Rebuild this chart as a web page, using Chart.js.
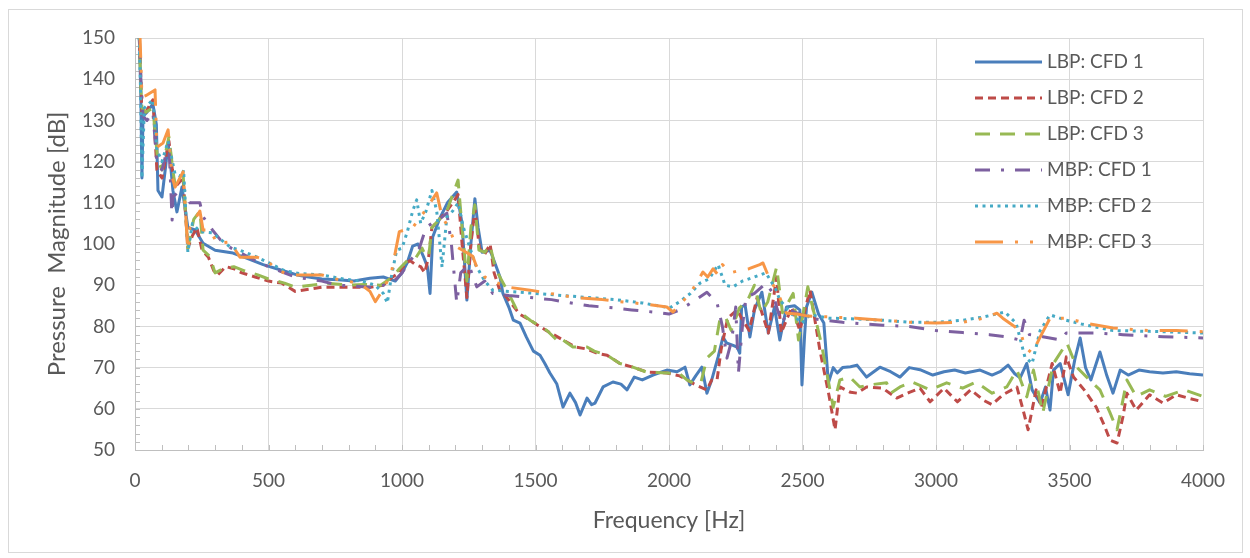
<!DOCTYPE html>
<html>
<head>
<meta charset="utf-8">
<script src="https://cdn.jsdelivr.net/npm/chart.js@4.4.0/dist/chart.umd.min.js"></script>
<style>
  html, body { margin: 0; padding: 0; background: #fff; }
  #wrap { width: 1250px; height: 558px; }
</style>
</head>
<body>
<div id="wrap"><canvas id="chart" width="1250" height="558"></canvas></div>
<script>
// [frequency Hz, magnitude dB]
const lbp1 = [[15,155],[22,135],[26,116],[30,131],[45,132],[67,134],[80,129],[86,113],[101,111.4],[115,119],[124,124.5],[135,118],[142,113],[157,107.8],[176,113.8],[198,104],[225,103.4],[255,100.2],[300,98.5],[367,97.8],[420,96.5],[480,95],[540,93.8],[607,92.5],[650,92],[700,91.5],[760,91.3],[820,91],[880,91.7],[930,92],[975,91],[1000,93],[1020,95.5],[1040,99.5],[1060,100],[1080,97],[1095,94.5],[1105,88],[1115,101.7],[1140,106],[1170,110],[1205,112.6],[1225,105],[1243,86.4],[1258,100],[1273,111],[1285,104],[1300,98],[1330,98.5],[1350,95],[1367,92],[1378,88],[1400,84.7],[1417,81.5],[1442,80.8],[1465,77.5],[1492,74],[1517,73],[1535,71],[1554,68.7],[1580,66],[1603,60.4],[1615,62],[1629,63.8],[1650,61.5],[1667,58.5],[1693,62.6],[1710,61],[1723,61.4],[1753,65.3],[1790,66.5],[1820,66],[1843,64.6],[1870,67.7],[1900,67],[1940,68.2],[1992,69.4],[2030,69],[2060,70.1],[2078,65.8],[2100,68],[2123,70.1],[2142,63.8],[2160,67],[2184,72.6],[2202,77.4],[2215,76],[2235,75.5],[2255,75],[2265,73.5],[2272,84.7],[2285,85.2],[2303,77.4],[2320,84],[2348,88.3],[2372,78.4],[2395,84.7],[2415,76.7],[2440,84.7],[2470,85],[2490,84],[2498,65.8],[2508,78],[2515,84.7],[2535,88.3],[2560,83],[2580,80.8],[2597,66.3],[2615,70],[2630,68.7],[2650,70],[2680,70.2],[2704,70.6],[2740,67.7],[2790,70.1],[2830,69],[2865,67.7],[2900,70],[2940,69.5],[2988,68.2],[3030,69],[3070,69.4],[3110,68.7],[3165,69.4],[3210,68.2],[3240,69],[3270,70.6],[3295,68.5],[3315,67.5],[3340,71],[3360,64.6],[3390,61.4],[3410,65.3],[3427,59.7],[3440,69.4],[3465,71],[3495,63.4],[3520,72],[3540,77.2],[3560,70],[3580,67],[3614,73.8],[3640,68],[3663,63.8],[3690,69.4],[3720,68.2],[3760,69.4],[3800,69],[3850,68.7],[3900,69],[3950,68.5],[4000,68.2]];

const lbp2 = [[15,152],[22,140],[26,131],[40,132],[67,135],[82,118],[101,116],[127,125],[140,118],[150,113.8],[180,116],[198,99],[215,102],[232,104],[251,98.5],[275,96.8],[295,93.5],[310,92.5],[340,94.5],[370,94],[400,93],[450,92],[500,91],[550,90.5],[600,88.5],[650,89],[700,89.5],[760,89.5],[820,89.5],[880,89.5],[930,90],[965,92],[990,93],[1010,95],[1030,96],[1050,95],[1070,94.5],[1085,93],[1100,97],[1112,104],[1140,106],[1168,108],[1190,110],[1210,112],[1225,100],[1243,87],[1258,100],[1273,108.5],[1290,99],[1310,97.5],[1330,100],[1345,93],[1365,89],[1393,87],[1440,83],[1480,81.5],[1540,79],[1603,76.7],[1650,75],[1693,74.5],[1730,73.5],[1768,73],[1816,71],[1870,70],[1917,68.9],[1992,68.7],[2040,68],[2067,67],[2100,65.8],[2142,64.6],[2160,67],[2180,67],[2195,74.3],[2210,79],[2220,82],[2255,84],[2272,82],[2300,79],[2330,87],[2372,78.4],[2403,92],[2420,78.4],[2460,84.7],[2490,79],[2528,88.8],[2565,74.3],[2600,63],[2622,54.9],[2640,65.3],[2680,64],[2704,63.8],[2740,65.3],[2800,65],[2853,62.6],[2900,64],[2940,65],[2978,61.7],[3030,65],[3080,61.7],[3130,64.6],[3180,62],[3210,61],[3250,63.4],[3303,65.3],[3325,60],[3345,54.9],[3375,64.6],[3395,60.4],[3435,71],[3465,63.8],[3488,72.6],[3515,67.7],[3555,64.6],[3600,60.4],[3630,56],[3652,52.4],[3678,51.7],[3700,58],[3715,63.8],[3750,59.7],[3800,63.4],[3850,61.4],[3900,63.4],[3950,62.5],[4000,61.7]];

const lbp3 = [[15,152],[22,138],[26,133],[40,132],[67,133],[85,120.4],[101,118],[127,126],[140,119],[150,114],[180,117],[198,99],[220,106],[243,108],[255,98.5],[280,97],[300,93],[330,94],[370,94.5],[410,93.5],[460,92.5],[500,91.5],[560,90.5],[600,89.5],[660,90],[720,90.5],[800,90],[860,90.2],[920,90],[965,92],[990,94],[1020,96],[1050,96.5],[1075,99],[1090,97],[1100,97],[1112,104],[1140,106],[1168,108],[1190,112],[1210,115.5],[1225,104],[1243,91],[1258,104],[1273,109.5],[1288,98.5],[1310,98],[1330,99.7],[1350,94],[1393,88.8],[1430,84],[1480,81.5],[1543,79],[1590,76],[1603,76.7],[1640,75],[1693,75],[1720,74],[1768,73],[1816,71],[1870,70],[1917,68.9],[1992,68.7],[2040,68.5],[2067,67],[2100,66],[2120,66.5],[2142,72.3],[2170,74],[2190,81.5],[2210,82.5],[2233,79],[2264,84.5],[2295,86.4],[2320,90],[2345,83.3],[2370,86],[2403,94.4],[2425,83.3],[2465,88],[2485,76.7],[2520,89.6],[2570,76],[2615,60.4],[2640,67],[2677,67.7],[2715,65.3],[2750,65.8],[2815,66.3],[2830,63.8],[2865,65.3],[2910,66.5],[2978,64.6],[3040,66.3],[3100,65],[3150,66.5],[3210,63.8],[3265,65.3],[3303,69.4],[3340,62.9],[3365,69.4],[3400,59],[3440,71],[3490,76],[3527,70.1],[3575,67],[3614,64.6],[3652,59],[3678,54.9],[3715,67],[3750,63],[3800,64.6],[3860,63],[3930,64.6],[4000,63]];

const mbp1 = [[15,152],[22,140],[30,131],[45,130],[67,132],[82,119.6],[101,118],[127,124.5],[139,105.8],[142,111.4],[180,113.8],[206,110],[243,110],[255,106.6],[290,103.4],[320,101],[360,99],[420,97],[480,95],[540,93.5],[600,92],[650,91.5],[700,91],[760,90],[820,89.8],[880,89.5],[930,90],[970,91],[1000,93],[1030,96],[1060,98],[1090,104],[1112,105],[1140,106],[1168,107.5],[1185,100],[1205,85.7],[1220,93],[1250,95],[1280,89.6],[1310,91],[1340,88],[1400,87.5],[1480,87],[1560,86.5],[1603,86],[1700,85],[1790,84.5],[1860,84],[1940,83.5],[2000,83],[2040,84],[2090,86],[2142,88.3],[2180,85.7],[2200,80],[2217,72.3],[2235,76.7],[2250,84.7],[2260,68.7],[2275,80],[2288,87],[2320,88],[2363,90.5],[2390,88],[2403,84.7],[2422,80.8],[2450,84],[2490,83],[2530,82],[2580,81.5],[2650,81],[2750,80.5],[2800,80.3],[2900,80],[3000,79],[3100,78.5],[3200,78],[3260,77.5],[3315,76.7],[3330,81.5],[3350,78],[3400,77.5],[3465,76.7],[3488,78.4],[3600,78.4],[3700,78],[3850,77.5],[4000,77.2]];

const mbp2 = [[15,152],[20,140],[26,116],[35,133],[67,135],[82,122.8],[101,120],[124,125],[150,117],[176,116.3],[182,118],[198,98],[215,105],[243,103],[290,102.7],[356,99.3],[393,98.5],[450,97],[500,95.5],[560,93.5],[620,92.8],[700,92.5],[780,91.5],[850,91],[900,90],[930,88],[945,85.7],[960,92],[980,98.5],[1000,99],[1020,103],[1040,108],[1055,110.7],[1070,105],[1090,108],[1112,113],[1130,108],[1150,94.4],[1168,106.6],[1190,108],[1210,110],[1230,104],[1250,100],[1275,95],[1310,91],[1340,88.8],[1400,88.5],[1500,88],[1600,87.5],[1700,87],[1800,86.5],[1900,85.7],[1960,85],[2003,84.5],[2040,86],[2080,88],[2116,90.5],[2150,91.5],[2184,95],[2210,90],[2240,89.6],[2275,91],[2320,92],[2363,93],[2400,89],[2415,86.4],[2460,83],[2498,80.8],[2528,82.8],[2600,82],[2700,81.8],[2800,81.5],[2900,81],[3000,81],[3100,81.5],[3180,82.3],[3258,83.5],[3300,80.8],[3333,72.6],[3360,71],[3390,79],[3427,82.8],[3488,81.5],[3550,80.5],[3663,79],[3800,78.8],[4000,78.4]];

const mbp3 = [[15,152],[19,150],[26,135.7],[40,136],[75,137.4],[82,123.5],[105,124.5],[124,127.7],[139,116.3],[150,113.8],[180,117.5],[198,98.5],[206,104],[243,108],[255,103.4],[281,103.4],[307,100.2],[356,100.5],[393,96.8],[457,96.8],[494,96],[532,93.7],[580,92.5],[640,92.5],[700,92.5],[750,91.5],[800,91],[850,90],[880,88.5],[900,86],[930,89],[960,93],[990,103],[1040,104],[1080,107.5],[1130,112.4],[1150,106.6],[1175,104],[1205,99.3],[1240,98],[1265,97],[1280,94.4],[1310,92],[1340,91],[1400,89.5],[1480,88.8],[1554,88],[1650,87],[1750,86.5],[1816,86],[1900,85.5],[1992,84.7],[2015,83.5],[2050,86],[2080,88],[2127,93.2],[2145,92],[2165,94],[2184,92.5],[2200,95],[2230,93],[2260,93.5],[2300,94],[2340,95],[2352,95.4],[2380,91],[2403,88.8],[2440,83.2],[2480,83],[2520,82.5],[2600,82.3],[2700,82],[2800,81.5],[2900,81],[3000,80.8],[3100,81],[3180,82],[3228,83.2],[3250,82],[3315,79],[3333,75],[3360,73.5],[3390,77.4],[3427,82],[3488,82],[3560,80.8],[3663,79.6],[3800,79],[3900,79],[4000,78.7]];

const seriesNames = ['LBP: CFD 1', 'LBP: CFD 2', 'LBP: CFD 3', 'MBP: CFD 1', 'MBP: CFD 2', 'MBP: CFD 3'];
const seriesData = [lbp1, lbp2, lbp3, mbp1, mbp2, mbp3];

const colors = ['#4A7EBB', '#BE4B48', '#98B954', '#7D60A0', '#46AAC5', '#F79646'];
const dashes = [[], [8, 5], [15, 10], [15, 11, 3, 11], [3, 4.5], [28, 12, 3, 12, 3, 12]];

const textColor = '#595959';
const fontFamily = "Lato, 'Noto Sans', sans-serif";

const datasets = seriesData.map((pts, i) => ({
  label: seriesNames[i],
  data: pts.map(p => ({ x: p[0], y: p[1] })),
  borderColor: colors[i],
  backgroundColor: colors[i],
  borderWidth: 3,
  borderDash: dashes[i],
  borderJoinStyle: 'round',
  pointRadius: 0,
  tension: 0,
  order: seriesData.length - 1 - i
}));

// white background + light frame
const framePlugin = {
  id: 'frame',
  beforeDraw(chart) {
    const ctx = chart.ctx;
    ctx.save();
    ctx.fillStyle = '#fff';
    ctx.fillRect(0, 0, chart.width, chart.height);
    ctx.strokeStyle = '#D9D9D9';
    ctx.lineWidth = 1;
    ctx.strokeRect(8.5, 9.5, 1234, 543);
    ctx.restore();
  }
};

// small inner ticks along the axes (every 2 dB and every 100 Hz)
const minorTicks = {
  id: 'minorTicks',
  beforeDatasetsDraw(chart) {
    const { ctx, chartArea: a, scales: { x, y } } = chart;
    ctx.save();
    ctx.strokeStyle = '#BFBFBF';
    ctx.lineWidth = 1;
    ctx.beginPath();
    for (let v = 50; v <= 150; v += 2) {
      const py = Math.round(y.getPixelForValue(v)) + 0.5;
      ctx.moveTo(a.left, py);
      ctx.lineTo(a.left + 5, py);
    }
    for (let f = 0; f <= 4000; f += 100) {
      const px = Math.round(x.getPixelForValue(f)) + 0.5;
      ctx.moveTo(px, a.bottom);
      ctx.lineTo(px, a.bottom - 5);
    }
    ctx.stroke();
    ctx.restore();
  }
};

// legend drawn inside the plot, top right
const innerLegend = {
  id: 'innerLegend',
  afterDraw(chart) {
    const ctx = chart.ctx;
    ctx.save();
    ctx.font = '19px ' + fontFamily;
    ctx.textBaseline = 'middle';
    ctx.fillStyle = textColor;
    seriesNames.forEach((name, i) => {
      const yy = 62 + i * 36;
      ctx.beginPath();
      ctx.strokeStyle = colors[i];
      ctx.lineWidth = 3;
      ctx.setLineDash(dashes[i]);
      ctx.moveTo(975, yy);
      ctx.lineTo(1042, yy);
      ctx.stroke();
      ctx.setLineDash([]);
      ctx.fillText(name, 1047, yy);
    });
    ctx.restore();
  }
};

new Chart(document.getElementById('chart'), {
  type: 'line',
  data: { datasets },
  options: {
    responsive: false,
    animation: false,
    devicePixelRatio: 1,
    layout: { padding: { left: 0, top: 38, right: 47, bottom: 0 } },
    plugins: {
      legend: { display: false },
      tooltip: { enabled: false }
    },
    scales: {
      x: {
        type: 'linear',
        min: 0,
        max: 4000,
        ticks: { stepSize: 500, color: textColor, font: { family: fontFamily, size: 19 }, padding: 19, maxRotation: 0, callback: v => String(v) },
        grid: { color: '#D9D9D9', drawTicks: false },
        border: { color: '#BFBFBF' },
        title: { display: true, text: 'Frequency [Hz]', color: textColor, font: { family: fontFamily, size: 23 }, padding: { top: 0, bottom: 24 } },
        afterFit(scale) { scale.height = 108; }
      },
      y: {
        min: 50,
        max: 150,
        ticks: { stepSize: 10, color: textColor, font: { family: fontFamily, size: 19 }, padding: 20 },
        grid: { color: '#D9D9D9', drawTicks: false },
        border: { color: '#BFBFBF' },
        title: { display: true, text: 'Pressure  Magnitude [dB]', color: textColor, font: { family: fontFamily, size: 24 }, padding: { top: 43, bottom: 0 } },
        afterFit(scale) { scale.width = 135; }
      }
    }
  },
  plugins: [framePlugin, minorTicks, innerLegend]
});
</script>
</body>
</html>
